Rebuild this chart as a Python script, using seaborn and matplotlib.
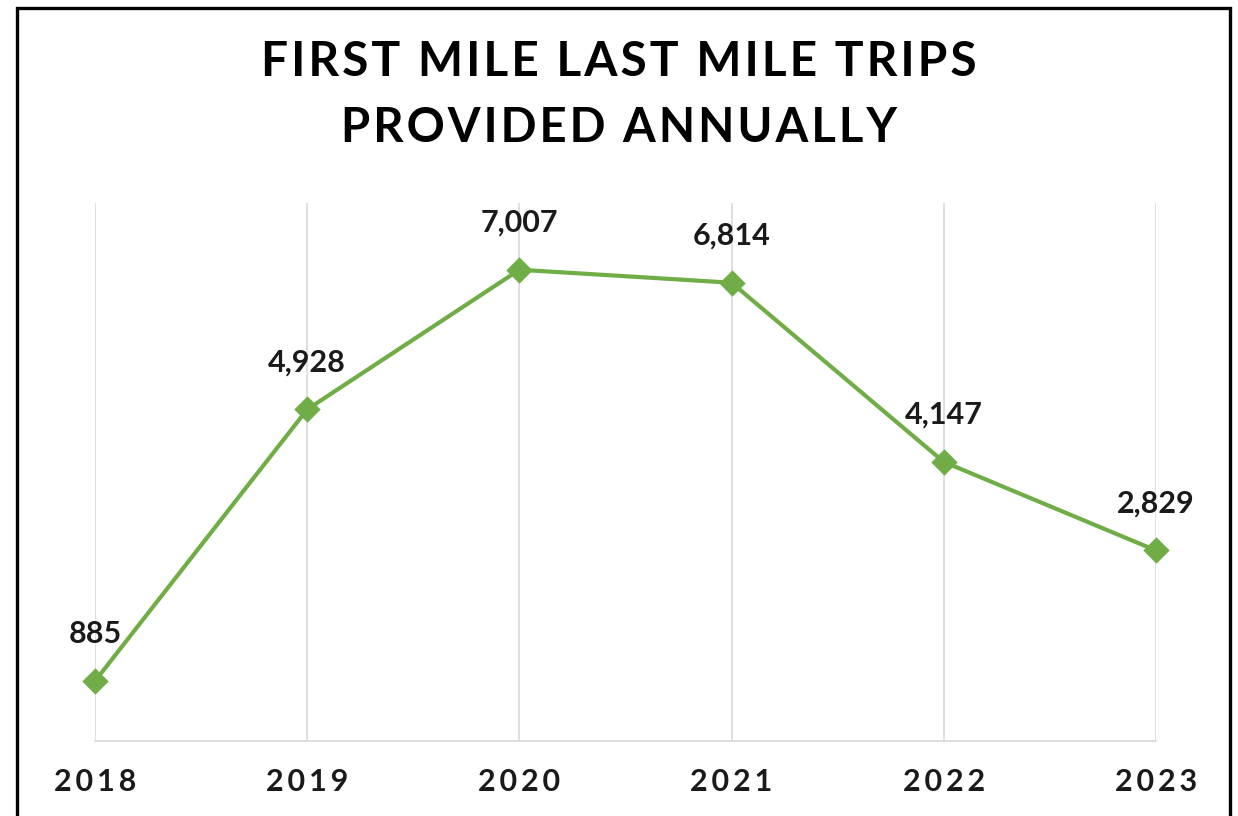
import matplotlib

matplotlib.use("Agg")
import matplotlib.pyplot as plt
import matplotlib.patches as patches
import pandas as pd
import seaborn as sns

# data
years = ["2018", "2019", "2020", "2021", "2022", "2023"]
trips = [885, 4928, 7007, 6814, 4147, 2829]

GREEN = "#70AD47"
GRID = "#D9D9D9"


def spaced(text, sep="\u200a"):
    # fake letter spacing, the original text is tracked out
    return sep.join(text)


df = pd.DataFrame({"year": years, "trips": trips})

sns.set_theme(style="white")
plt.rcParams["font.family"] = ["Lato", "DejaVu Sans"]

fig = plt.figure(figsize=(12.38, 8.16), dpi=100)
ax = fig.add_axes([0.0767, 0.0924, 0.8571, 0.6588])

sns.pointplot(
    data=df,
    x="year",
    y="trips",
    color=GREEN,
    markers="D",
    markersize=11,
    linewidth=3,
    ax=ax,
)
for artist in ax.lines + ax.collections:
    artist.set_clip_on(False)

ax.set_xlim(0, len(years) - 1)
ax.set_ylim(0, 8000)
ax.set_yticks([])
ax.set_xlabel("")
ax.set_ylabel("")

# vertical gridlines at every category
ax.grid(False)
for i in range(len(years)):
    ax.axvline(i, color=GRID, lw=1.2, zorder=0)

for side in ["top", "left", "right"]:
    ax.spines[side].set_visible(False)
ax.spines["bottom"].set_color(GRID)
ax.spines["bottom"].set_linewidth(1.2)

ax.tick_params(axis="x", length=0, pad=20)
ax.set_xticks(range(len(years)))
ax.set_xticklabels([spaced(y, "\u2009") for y in years], fontsize=22,
                   fontweight="bold", color="#1a1a1a")

# data labels
for i, v in enumerate(trips):
    ax.annotate(
        f"{v:,}",
        (i, v),
        xytext=(0, 34),
        textcoords="offset points",
        ha="center",
        va="center",
        fontsize=22,
        fontweight="bold",
        color="#1a1a1a",
    )

fig.text(0.5, 1 - 62 / 816, spaced("FIRST MILE LAST MILE TRIPS"), ha="center",
         va="center", fontsize=34.5, fontweight="bold", color="black")
fig.text(0.5, 1 - 128 / 816, spaced("PROVIDED ANNUALLY"), ha="center",
         va="center", fontsize=34, fontweight="bold", color="black")

# outer border (bottom edge is cut off in the original)
border = patches.Rectangle(
    (16.5 / 1238, -0.05), (1229.5 - 16.5) / 1238, 1.05 - 7.5 / 816,
    transform=fig.transFigure, fill=False, edgecolor="black", lw=2.4,
)
fig.add_artist(border)

fig.savefig("out.png", dpi=100, facecolor="white")
